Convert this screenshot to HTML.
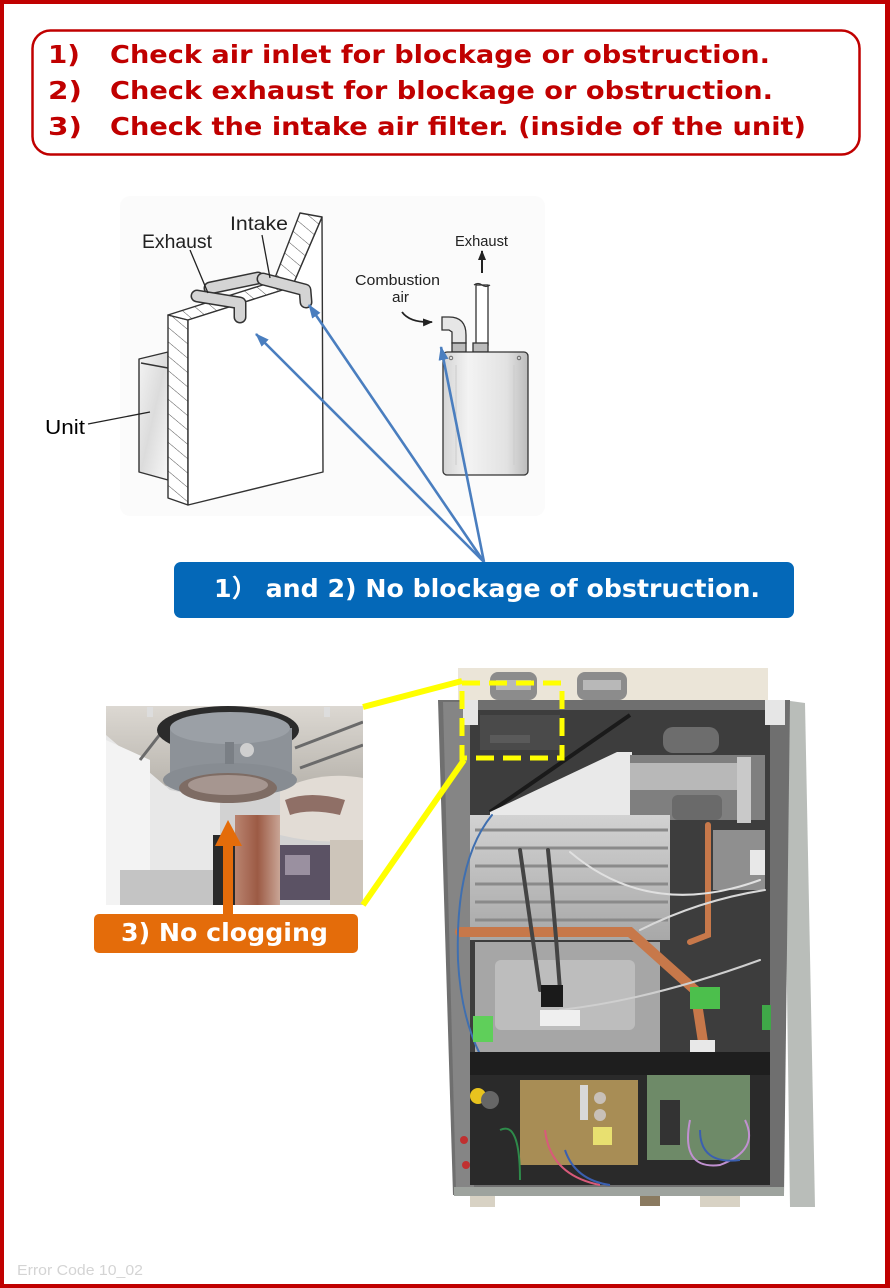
<!DOCTYPE html>
<html><head><meta charset="utf-8"><style>
html,body{margin:0;padding:0;background:#fff;}
svg{display:block;}
</style></head><body>
<svg width="890" height="1288" viewBox="0 0 890 1288" xmlns="http://www.w3.org/2000/svg">
<defs>
<pattern id="hatch" width="11" height="11" patternUnits="userSpaceOnUse" patternTransform="rotate(-50)">
<rect width="11" height="11" fill="#fff"/>
<line x1="0" y1="0" x2="0" y2="11" stroke="#555" stroke-width="1"/>
</pattern>
<linearGradient id="unitg" x1="0" y1="0" x2="1" y2="1">
<stop offset="0" stop-color="#f4f4f4"/><stop offset="0.5" stop-color="#dcdcdc"/><stop offset="1" stop-color="#f8f8f8"/>
</linearGradient>
<linearGradient id="heatg" x1="0" y1="0" x2="1" y2="0">
<stop offset="0" stop-color="#d4d4d4"/><stop offset="0.3" stop-color="#f3f3f3"/><stop offset="0.75" stop-color="#e2e2e2"/><stop offset="1" stop-color="#bcbcbc"/>
</linearGradient>
<linearGradient id="ceil" x1="0" y1="0" x2="0" y2="1">
<stop offset="0" stop-color="#dcd8d2"/><stop offset="1" stop-color="#b9b5ae"/>
</linearGradient>
<linearGradient id="rust" x1="0" y1="0" x2="1" y2="0">
<stop offset="0" stop-color="#b98470"/><stop offset="0.5" stop-color="#9c5a44"/><stop offset="1" stop-color="#c9a596"/>
</linearGradient>
<linearGradient id="hx" x1="0" y1="0" x2="0" y2="1">
<stop offset="0" stop-color="#d2d2d2"/><stop offset="1" stop-color="#a8a8a8"/>
</linearGradient>
<marker id="bh" viewBox="0 0 14 10" markerWidth="14" markerHeight="10" refX="13" refY="5" orient="auto" markerUnits="userSpaceOnUse">
<path d="M0,0 L14,5 L0,10 z" fill="#4a7ebf"/>
</marker>
<marker id="kh" viewBox="0 0 10 8" markerWidth="10" markerHeight="8" refX="9" refY="4" orient="auto" markerUnits="userSpaceOnUse">
<path d="M0,0 L10,4 L0,8 z" fill="#222"/>
</marker>
<clipPath id="fclip"><rect x="106" y="706" width="257" height="199"/></clipPath>
</defs>

<!-- page border -->
<rect x="0" y="0" width="890" height="4" fill="#c00000"/>
<rect x="0" y="0" width="4" height="1288" fill="#c00000"/>
<rect x="885" y="0" width="5" height="1288" fill="#c00000"/>
<rect x="0" y="1284" width="890" height="4" fill="#c00000"/>

<!-- title box -->
<rect x="32.5" y="30.5" width="827" height="124" rx="18" fill="#fff" stroke="#c00000" stroke-width="2.5"/>
<g font-family="'DejaVu Sans','Liberation Sans',sans-serif" font-weight="bold" font-size="25" fill="#c00000">
<text x="48" y="63" textLength="32" lengthAdjust="spacingAndGlyphs">1)</text>
<text x="110" y="63" textLength="660" lengthAdjust="spacingAndGlyphs">Check air inlet for blockage or obstruction.</text>
<text x="48" y="99" textLength="34" lengthAdjust="spacingAndGlyphs">2)</text>
<text x="110" y="99" textLength="663" lengthAdjust="spacingAndGlyphs">Check exhaust for blockage or obstruction.</text>
<text x="48" y="135" textLength="34" lengthAdjust="spacingAndGlyphs">3)</text>
<text x="110" y="135" textLength="696" lengthAdjust="spacingAndGlyphs">Check the intake air filter. (inside of the unit)</text>
</g>

<!-- diagram background -->
<rect x="120" y="196" width="425" height="320" rx="10" fill="#fbfbfb"/>

<!-- left diagram -->
<g stroke="#333" stroke-width="1.4" stroke-linejoin="round">
<polygon points="139,359 168,352 168,480 139,472" fill="url(#unitg)"/>
<line x1="141" y1="363" x2="168" y2="368"/>
<polygon points="168,315 188,320 188,505 168,498" fill="url(#hatch)"/>
<polygon points="168,315 272,282 292,287 188,320" fill="url(#hatch)"/>
<polygon points="188,320 292,287 322,217 323,472 188,505" fill="#fff"/>
<polygon points="300,213 322,217 292,287 273,283" fill="url(#hatch)"/>
</g>
<g fill="none" stroke-linecap="round" stroke-linejoin="round">
<path d="M210,288 L258,278" stroke="#333" stroke-width="13"/>
<path d="M210,288 L258,278" stroke="#d4d4d4" stroke-width="10"/>
<path d="M263,279 L305,290 L306,302" stroke="#333" stroke-width="13"/>
<path d="M263,279 L305,290 L306,302" stroke="#d4d4d4" stroke-width="10"/>
<path d="M197,296 L240,303 L240,317" stroke="#333" stroke-width="13"/>
<path d="M197,296 L240,303 L240,317" stroke="#d4d4d4" stroke-width="10"/>
</g>
<g stroke="#222" stroke-width="1.3" fill="none">
<line x1="190" y1="250" x2="208" y2="293"/>
<line x1="262" y1="235" x2="270" y2="278"/>
<line x1="88" y1="424" x2="150" y2="412"/>
</g>
<g font-family="'Liberation Sans',sans-serif" fill="#222">
<text x="142" y="248" font-size="19" textLength="70" lengthAdjust="spacingAndGlyphs">Exhaust</text>
<text x="230" y="230" font-size="19" textLength="58" lengthAdjust="spacingAndGlyphs">Intake</text>
<text x="45" y="434" font-size="20" fill="#000" textLength="40" lengthAdjust="spacingAndGlyphs">Unit</text>
<text x="455" y="246" font-size="15" textLength="53" lengthAdjust="spacingAndGlyphs">Exhaust</text>
<text x="355" y="285" font-size="15" textLength="85" lengthAdjust="spacingAndGlyphs">Combustion</text>
<text x="392" y="302" font-size="15" textLength="17" lengthAdjust="spacingAndGlyphs">air</text>
</g>

<!-- right heater -->
<g stroke="#333" stroke-width="1.3">
<rect x="476" y="285" width="12" height="60" fill="#fff"/>
<path d="M474,285 q4,-3 8,0 q4,3 8,0" fill="none"/>
<rect x="473" y="343" width="15" height="9" fill="#bbb"/>
<path d="M442,317 L449,317 Q466,317 466,335 L466,343 L452,343 L452,332 L449,330 L442,330 Z" fill="#e6e6e6"/>
<rect x="452" y="343" width="14" height="9" fill="#bbb"/>
<rect x="443" y="352" width="85" height="123" rx="4" fill="url(#heatg)"/>
</g>
<circle cx="451" cy="358" r="1.8" fill="none" stroke="#555" stroke-width="0.8"/>
<circle cx="519" cy="358" r="1.8" fill="none" stroke="#555" stroke-width="0.8"/>
<line x1="456" y1="365" x2="456" y2="465" stroke="#ccc" stroke-width="1"/>
<line x1="514" y1="365" x2="514" y2="465" stroke="#ccc" stroke-width="1"/>
<line x1="482" y1="273" x2="482" y2="251" stroke="#222" stroke-width="2" marker-end="url(#kh)"/>
<path d="M402,312 Q410,323 432,322" fill="none" stroke="#222" stroke-width="1.8" marker-end="url(#kh)"/>

<!-- blue arrows -->
<g stroke="#4a7ebf" stroke-width="2.6" fill="none">
<line x1="484" y1="562" x2="256" y2="334" marker-end="url(#bh)"/>
<line x1="484" y1="562" x2="309" y2="305" marker-end="url(#bh)"/>
<line x1="484" y1="562" x2="441" y2="347" marker-end="url(#bh)"/>
</g>

<!-- blue label -->
<rect x="174" y="562" width="620" height="56" rx="7" fill="#0468b8"/>
<text x="214" y="597" font-family="'DejaVu Sans','Noto Sans CJK JP',sans-serif" font-weight="bold" font-size="25" fill="#fff" textLength="546" lengthAdjust="spacingAndGlyphs">1） and 2) No blockage of obstruction.</text>

<!-- filter photo -->
<g clip-path="url(#fclip)">
<rect x="106" y="706" width="257" height="199" fill="#d2d2d2"/>
<rect x="106" y="706" width="257" height="80" fill="url(#ceil)"/>
<polygon points="106,735 170,790 220,800 220,905 106,905" fill="#e8e8e8"/>
<polygon points="106,740 150,760 150,905 106,905" fill="#f3f3f3"/>
<rect x="120" y="870" width="100" height="35" fill="#c4c4c4"/>
<g stroke="#6a6a6a" stroke-width="3">
<line x1="295" y1="748" x2="363" y2="722"/>
<line x1="300" y1="768" x2="363" y2="745"/>
<line x1="140" y1="760" x2="175" y2="715"/>
</g>
<rect x="147" y="707" width="6" height="10" fill="#ddd"/>
<rect x="324" y="707" width="6" height="10" fill="#ddd"/>
<path d="M280,790 Q320,770 363,778 L363,840 Q320,845 280,835 Z" fill="#e2dcd5"/>
<path d="M285,800 Q310,790 345,800 L340,815 Q310,808 290,815 Z" fill="#8f6f66"/>
<rect x="235" y="815" width="45" height="90" fill="url(#rust)"/>
<rect x="213" y="835" width="22" height="70" fill="#2a2a2a"/>
<rect x="280" y="845" width="50" height="55" fill="#5b5264"/>
<rect x="285" y="855" width="25" height="20" fill="#9a90a0"/>
<rect x="330" y="840" width="33" height="65" fill="#cdc5ba"/>
<ellipse cx="228" cy="730" rx="71" ry="24" fill="#2b2b2b"/>
<rect x="170" y="728" width="122" height="45" fill="#8d9298"/>
<ellipse cx="230" cy="728" rx="60" ry="16" fill="#9ba0a6"/>
<ellipse cx="230" cy="780" rx="67" ry="17" fill="#878c92"/>
<ellipse cx="228" cy="788" rx="49" ry="15" fill="#7e6c64"/>
<ellipse cx="228" cy="785" rx="40" ry="10" fill="#a69690"/>
<circle cx="247" cy="750" r="7" fill="#cfcfcf"/>
<rect x="225" y="742" width="9" height="22" fill="#7a7f85"/>
</g>

<!-- orange arrow and label -->
<rect x="223" y="843" width="10" height="72" fill="#e46c0a"/>
<polygon points="215,846 242,846 228,820" fill="#e46c0a"/>
<rect x="94" y="914" width="264" height="39" rx="5" fill="#e46c0a"/>
<text x="121" y="941" font-family="'DejaVu Sans','Liberation Sans',sans-serif" font-weight="bold" font-size="25" fill="#fff" textLength="207" lengthAdjust="spacingAndGlyphs">3) No clogging</text>

<!-- unit photo -->
<g>
<rect x="458" y="668" width="310" height="34" fill="#ebe5d8"/>
<rect x="490" y="672" width="47" height="28" rx="8" fill="#8c8c8c"/>
<rect x="496" y="680" width="35" height="10" fill="#b8b8b8"/>
<rect x="577" y="672" width="50" height="28" rx="8" fill="#8c8c8c"/>
<rect x="583" y="680" width="38" height="10" fill="#b8b8b8"/>
<polygon points="783,700 805,703 815,1207 790,1207" fill="#b9bdb9"/>
<polygon points="438,700 790,700 784,1195 453,1195" fill="#6f6f6f"/>
<polygon points="443,702 470,702 474,1190 456,1190" fill="#858585"/>
<rect x="470" y="710" width="300" height="475" fill="#3d3d3d"/>
<rect x="463" y="700" width="15" height="25" fill="#e6e6e6"/>
<rect x="765" y="700" width="20" height="25" fill="#e6e6e6"/>
<rect x="480" y="715" width="80" height="35" fill="#4a4a4a"/>
<rect x="490" y="735" width="40" height="8" fill="#5a5a5a"/>
<line x1="490" y1="812" x2="630" y2="715" stroke="#1a1a1a" stroke-width="4"/>
<polygon points="490,812 617,752 632,752 632,817 490,817" fill="#e9e9e9"/>
<rect x="663" y="727" width="56" height="26" rx="10" fill="#6d6d6d"/>
<rect x="630" y="755" width="135" height="65" fill="#7f7f7f"/>
<rect x="630" y="763" width="108" height="27" fill="#b8b8b8"/>
<rect x="672" y="795" width="50" height="25" rx="6" fill="#6a6a6a"/>
<rect x="737" y="757" width="14" height="66" fill="#c9c9c9"/>
<rect x="470" y="815" width="200" height="125" fill="url(#hx)"/>
<g stroke="#8a8a8a" stroke-width="3">
<line x1="475" y1="830" x2="668" y2="830"/>
<line x1="475" y1="848" x2="668" y2="848"/>
<line x1="475" y1="866" x2="668" y2="866"/>
<line x1="475" y1="884" x2="668" y2="884"/>
<line x1="475" y1="902" x2="668" y2="902"/>
<line x1="475" y1="920" x2="668" y2="920"/>
</g>
<rect x="475" y="942" width="185" height="110" fill="#a6a6a6"/>
<rect x="495" y="960" width="140" height="70" rx="6" fill="#bdbdbd"/>
<rect x="713" y="830" width="52" height="60" fill="#8f8f8f"/>
<rect x="750" y="850" width="15" height="25" fill="#e8e8e8"/>
<g fill="none" stroke-linecap="round">
<path d="M460,932 L630,932 L695,990 L705,1055" stroke="#c7784a" stroke-width="10"/>
<path d="M708,825 L708,935 L690,942" stroke="#c7784a" stroke-width="6"/>
<path d="M492,815 Q455,860 458,960 Q462,1040 500,1085" stroke="#3f6fb0" stroke-width="2"/>
<path d="M520,850 Q530,920 540,990" stroke="#444" stroke-width="4"/>
<path d="M548,850 Q555,920 560,990" stroke="#444" stroke-width="4"/>
<path d="M570,852 Q650,920 760,880" stroke="#e0e0e0" stroke-width="2"/>
<path d="M640,930 Q700,900 765,890" stroke="#d8d8d8" stroke-width="2"/>
<path d="M560,1010 Q650,1000 760,960" stroke="#cfcfcf" stroke-width="2"/>
</g>
<rect x="541" y="985" width="22" height="22" fill="#1a1a1a"/>
<rect x="540" y="1010" width="40" height="16" fill="#efefef"/>
<rect x="473" y="1016" width="20" height="26" fill="#5fcf5a"/>
<rect x="690" y="987" width="30" height="22" fill="#4cbf4c"/>
<rect x="762" y="1005" width="9" height="25" fill="#3fa848"/>
<rect x="690" y="1040" width="25" height="20" fill="#e8e8e8"/>
<rect x="470" y="1052" width="300" height="23" fill="#1e1e1e"/>
<rect x="470" y="1075" width="300" height="110" fill="#2a2a2a"/>
<rect x="520" y="1080" width="118" height="85" fill="#a88d55"/>
<rect x="593" y="1127" width="19" height="18" fill="#e8e070"/>
<rect x="580" y="1085" width="8" height="35" fill="#d8d8d8"/>
<circle cx="600" cy="1098" r="6" fill="#c8c0b8"/>
<circle cx="600" cy="1115" r="6" fill="#c8c0b8"/>
<rect x="647" y="1075" width="103" height="85" fill="#6e8a68"/>
<rect x="660" y="1100" width="20" height="45" fill="#333"/>
<circle cx="478" cy="1096" r="8" fill="#e8c31e"/>
<circle cx="490" cy="1100" r="9" fill="#666"/>
<g fill="none" stroke-width="2">
<path d="M545,1130 Q550,1175 600,1185" stroke="#d85a7a"/>
<path d="M565,1150 Q575,1180 610,1185" stroke="#3a5fb0"/>
<path d="M690,1120 Q680,1170 720,1165 Q760,1150 745,1120" stroke="#c090d0"/>
<path d="M700,1130 Q700,1165 740,1160" stroke="#3a5fb0"/>
<path d="M500,1130 Q520,1120 520,1180" stroke="#2e8a4a"/>
</g>
<circle cx="464" cy="1140" r="4" fill="#c03030"/>
<circle cx="466" cy="1165" r="4" fill="#c03030"/>
<rect x="454" y="1187" width="330" height="9" fill="#9ea39e"/>
<rect x="470" y="1196" width="25" height="11" fill="#d8d2c4"/>
<rect x="640" y="1196" width="20" height="10" fill="#8a7a60"/>
<rect x="700" y="1196" width="40" height="11" fill="#d8d2c4"/>
</g>

<!-- yellow callout -->
<g stroke="#ffff00" fill="none">
<line x1="363" y1="707" x2="462" y2="681" stroke-width="6"/>
<line x1="363" y1="905" x2="464" y2="760" stroke-width="6"/>
<rect x="462" y="683" width="100" height="75" stroke-width="5" stroke-dasharray="18 9"/>
</g>

<!-- footer -->
<text x="17" y="1275" font-family="'Liberation Sans',sans-serif" font-size="14.5" fill="#d4d4d4" textLength="126" lengthAdjust="spacingAndGlyphs">Error Code 10_02</text>
</svg>
</body></html>
